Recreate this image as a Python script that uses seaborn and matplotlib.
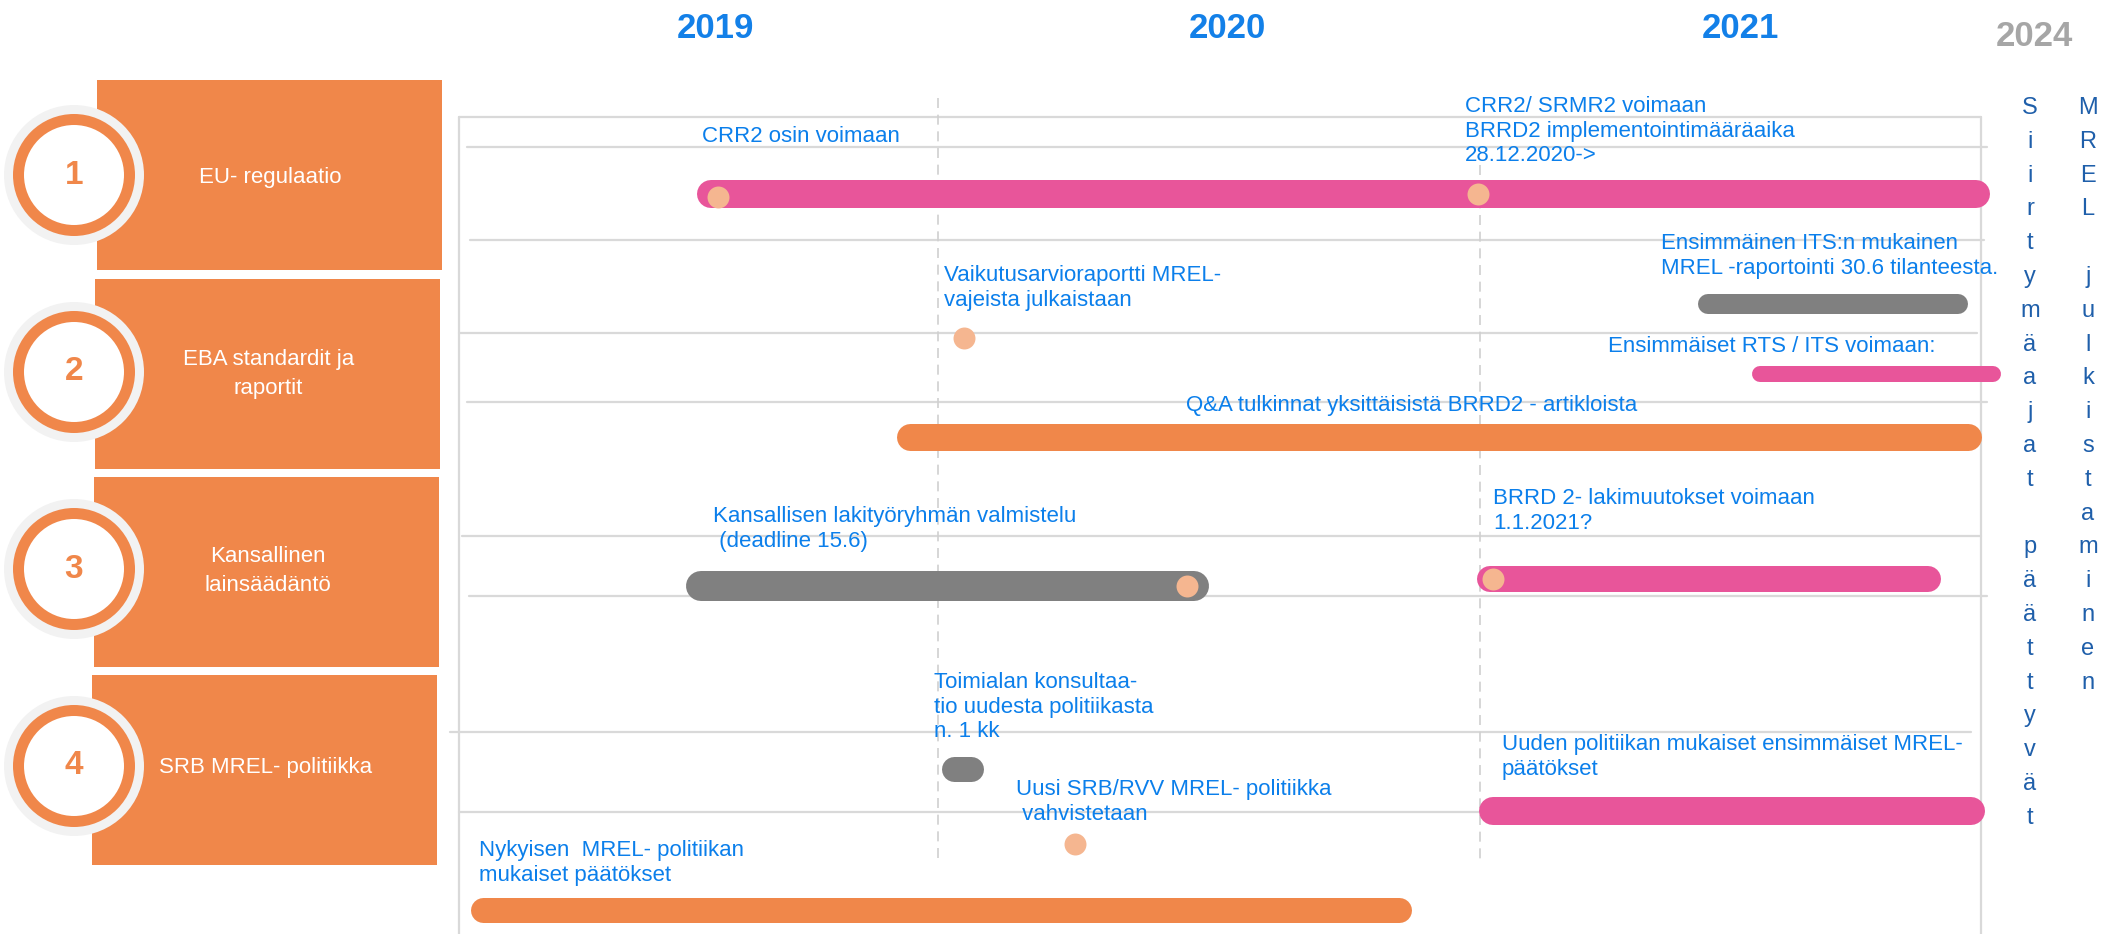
import pandas as pd
import seaborn as sns
import matplotlib.pyplot as plt
import matplotlib.dates as mdates
from matplotlib.patches import Circle, Rectangle

# ---- data ----
groups = ["EU- regulaatio", "EBA standardit ja\nraportit",
          "Kansallinen\nlainsäädäntö", "SRB MREL- politiikka"]
group_ids = ["1", "2", "3", "4"]
years = ["2019", "2020", "2021"]
year_mid = ["2019-07-02", "2020-07-01", "2021-07-01"]
far_year = "2024"

bar_group = [1, 2, 2, 2, 3, 3, 4, 4, 4]
bar_kind = ["voimaan", "valmistelu", "voimaan", "jatkuva", "valmistelu",
            "voimaan", "valmistelu", "voimaan", "jatkuva"]
bar_start = ["2019-06-29", "2021-06-08", "2021-07-15", "2019-11-18", "2019-06-22",
             "2021-01-04", "2019-12-19", "2021-01-06", "2019-01-18"]
bar_end = ["2021-12-16", "2021-12-03", "2021-12-28", "2021-12-10", "2020-06-07",
           "2021-11-12", "2019-12-31", "2021-12-12", "2020-10-31"]

milestone_dates = ["2019-07-04", "2020-12-26", "2019-12-26",
                   "2020-06-02", "2021-01-06", "2020-03-14"]
divider_dates = ["2019-12-08", "2020-12-28"]

event_texts = [
    "CRR2 osin voimaan",
    "CRR2/ SRMR2 voimaan\nBRRD2 implementointimääräaika\n28.12.2020->",
    "Vaikutusarvioraportti MREL-\nvajeista julkaistaan",
    "Ensimmäinen ITS:n mukainen\nMREL -raportointi 30.6 tilanteesta.",
    "Ensimmäiset RTS / ITS voimaan:",
    "Q&A tulkinnat yksittäisistä BRRD2 - artikloista",
    "Kansallisen lakityöryhmän valmistelu\n (deadline 15.6)",
    "BRRD 2- lakimuutokset voimaan\n1.1.2021?",
    "Toimialan konsultaa-\ntio uudesta politiikasta\nn. 1 kk",
    "Uusi SRB/RVV MREL- politiikka\n vahvistetaan",
    "Uuden politiikan mukaiset ensimmäiset MREL-\npäätökset",
    "Nykyisen  MREL- politiikan\nmukaiset päätökset",
]
side_notes = ["Siirtymäajat päättyvät", "MREL julkistaminen"]

# ---- layout (pixels) ----
W, H = 2103, 934
bar_y = [194, 304, 374, 437, 586, 579, 769, 811, 910]
bar_px = [28, 20, 16, 27, 30, 26, 25, 28, 25]
milestone_y = [197, 194, 338, 586, 579, 844]
divider_top = [98, 165]
event_xy = [(702, 136), (1465, 131), (944, 288), (1661, 256), (1608, 347),
            (1186, 406), (713, 529), (1493, 511), (934, 707), (1016, 802),
            (1502, 757), (479, 863)]
box_left = [97, 95, 94, 92]
box_right = [442, 440, 439, 437]
box_top = [80, 279, 477, 675]
circle_y = [175, 372, 569, 766]
grid_rows = [(147, 467, 1987), (240, 470, 1984), (333, 459, 1977), (402, 467, 1987),
             (536, 462, 1981), (596, 469, 1987), (732, 450, 1971), (812, 459, 1984)]

orange = "#F0874A"
palette = {"voimaan": "#E8559A", "valmistelu": "#808080", "jatkuva": orange}
peach = "#F5B690"
blue = "#0B7FEB"
line_col = "#D9D9D9"

sns.set_theme(style="white")
plt.rcParams['font.family'] = ['Liberation Sans', 'DejaVu Sans']

fig = plt.figure(figsize=(W / 100, H / 100), dpi=100)
deco = fig.add_axes([0, 0, 1, 1])
deco.set_xlim(0, W)
deco.set_ylim(H, 0)
deco.set_axis_off()

# frame and row lines
deco.plot([459, 1981], [117, 117], color=line_col, lw=1.6)
deco.plot([459, 459], [117, H], color=line_col, lw=1.6)
deco.plot([1981, 1981], [117, H], color=line_col, lw=1.6)
for y, x0, x1 in grid_rows:
    deco.plot([x0, x1], [y, y], color=line_col, lw=1.6)

# left group panel
for i, name in enumerate(groups):
    top = box_top[i]
    deco.add_patch(Rectangle((box_left[i], top), box_right[i] - box_left[i], 190,
                             facecolor=orange, edgecolor="none"))
    cy = circle_y[i]
    deco.add_patch(Circle((74, cy), 70, facecolor="#F2F2F2", edgecolor="none"))
    deco.add_patch(Circle((74, cy), 61, facecolor=orange, edgecolor="none"))
    deco.add_patch(Circle((74, cy), 50, facecolor="white", edgecolor="none"))
    deco.text(74, cy, group_ids[i], ha="center", va="center", fontsize=24,
              fontweight="bold", color=orange)
    deco.text((box_left[i] + box_right[i]) / 2 + 1, cy + 2, name, ha="center",
              va="center", fontsize=16, color="white", linespacing=1.45)

# timeline axes: x in dates, y in pixel rows
ax = fig.add_axes([0, 0, 1, 1])
ax.patch.set_alpha(0)
x_ref = mdates.date2num(pd.Timestamp("2020-01-01"))
ppd = 513 / 365.25
ax.set_xlim(x_ref - 972 / ppd, x_ref + (W - 972) / ppd)
ax.set_ylim(H, 0)
ax.set_axis_off()

for d, top in zip(divider_dates, divider_top):
    xd = mdates.date2num(pd.Timestamp(d))
    ax.plot([xd, xd], [top, 859], color="#D0D0D0", lw=1.2, ls=(0, (6, 4)), zorder=1)

bars = pd.DataFrame({"group": bar_group, "kind": bar_kind,
                     "start": mdates.date2num(pd.to_datetime(bar_start)),
                     "end": mdates.date2num(pd.to_datetime(bar_end)),
                     "y": bar_y, "px": bar_px})
for _, b in bars.iterrows():
    ax.plot([b["start"], b["end"]], [b["y"], b["y"]], color=palette[b["kind"]],
            lw=b["px"] * 0.72, solid_capstyle="round", zorder=2)

ms = pd.DataFrame({"x": mdates.date2num(pd.to_datetime(milestone_dates)),
                   "y": milestone_y})
sns.scatterplot(data=ms, x="x", y="y", ax=ax, color=peach, s=250,
                linewidth=0, zorder=3, legend=False)
ax.set_xlabel("")
ax.set_ylabel("")
ax.set_xlim(x_ref - 972 / ppd, x_ref + (W - 972) / ppd)
ax.set_ylim(H, 0)

# year headings
for lab, d in zip(years, year_mid):
    ax.text(mdates.date2num(pd.Timestamp(d)), 28, lab, ha="center", va="center",
            fontsize=25, fontweight="bold", color="#1380E8")
ax.text(2034, 37, far_year, transform=deco.transData, ha="center", va="center",
        fontsize=25, fontweight="bold", color="#A6A6A6")

# event annotations
for s, (x, y) in zip(event_texts, event_xy):
    ax.text(x, y, s, transform=deco.transData, ha="left", va="center",
            fontsize=16, color=blue, linespacing=1.2, zorder=5)

# vertical side notes
for note, xc in zip(side_notes, [2030, 2088]):
    for k, ch in enumerate(note):
        if ch != " ":
            ax.text(xc, 108 + k * 33.8, ch, transform=deco.transData, ha="center",
                    va="center", fontsize=17, color="#1F5FAA")

plt.savefig("out.png", dpi=100)
